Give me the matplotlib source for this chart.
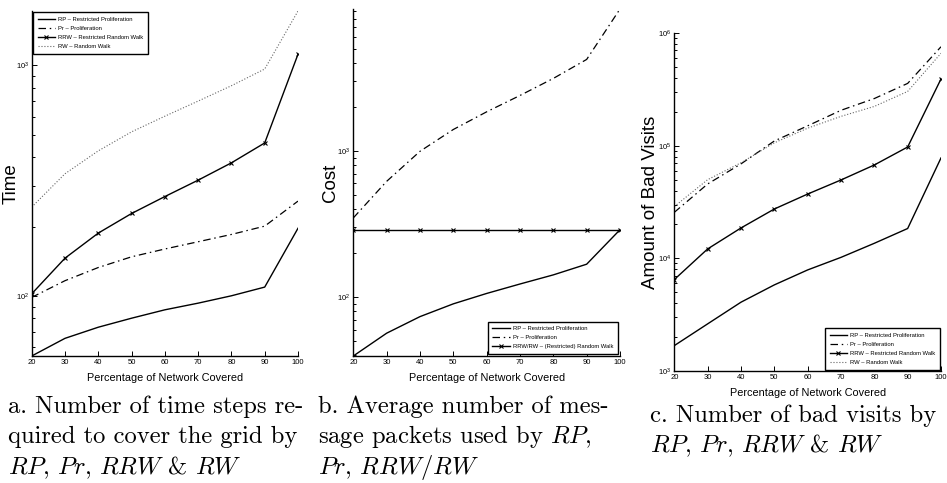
import matplotlib
matplotlib.use("Agg")
import matplotlib.pyplot as plt
from matplotlib import font_manager
from matplotlib.ticker import LogLocator, NullFormatter

# percentage of network covered
coverage = [20, 30, 40, 50, 60, 70, 80, 90, 100]

# a. time steps
rp_time = [55, 65.6, 73.3, 80.2, 87.2, 93.2, 100.3, 109.4, 196.8]
pr_time = [98.7, 116.6, 133, 148, 160, 172, 185, 201, 258]
rrw_time = [102.3, 146, 187.5, 228, 270, 318, 378, 461, 1117]
rw_time = [243, 339, 426, 515, 602, 700, 816, 964, 1720]

# b. message packets (cost)
rp_cost = [39.6, 56.7, 73.6, 90, 106, 123, 142, 168, 289]
pr_cost = [348, 619, 993, 1400, 1849, 2392, 3128, 4218, 9330]
rrw_cost = [289, 289, 289, 289, 289, 289, 289, 289, 289]

# c. bad visits
rp_bad = [1680, 2620, 4080, 5810, 7890, 10200, 13600, 18400, 77800]
pr_bad = [25600, 45700, 68900, 110000, 150000, 206000, 262000, 357000, 755000]
rrw_bad = [6480, 12120, 18600, 27400, 37200, 49600, 67400, 97300, 391000]
rw_bad = [28800, 49900, 70500, 106000, 143000, 182000, 223000, 303000, 661000]

captions_a = ["a. Number of time steps re-", "quired to cover the grid by",
              r"$RP$, $Pr$, $RRW$ & $RW$"]
captions_b = ["b. Average number of mes-", r"sage packets used by $RP$,",
              r"$Pr$, $RRW/RW$"]
captions_c = ["c. Number of bad visits by", r"$RP$, $Pr$, $RRW$ & $RW$"]

names = {f.name for f in font_manager.fontManager.ttflist}
narrow = "Liberation Sans Narrow" if "Liberation Sans Narrow" in names else "Liberation Sans"

plt.rcParams["font.family"] = narrow
plt.rcParams["mathtext.fontset"] = "cm"

W, H = 947, 483
fig = plt.figure(figsize=(W / 100, H / 100), dpi=100)


def add_ax(left, top, right, bottom):
    return fig.add_axes([left / W, 1 - bottom / H, (right - left) / W, (bottom - top) / H])


def style(ax, ylabel, ylab_x):
    ax.set_yscale("log")
    ax.set_xlim(20, 100)
    ax.set_xticks(coverage)
    for s in ["top", "right"]:
        ax.spines[s].set_visible(False)
    for s in ["left", "bottom"]:
        ax.spines[s].set_linewidth(1.0)
    ax.tick_params(which="both", direction="in", labelsize=5.5, width=0.7, pad=2)
    ax.tick_params(which="major", length=3.5)
    ax.tick_params(which="minor", length=2)
    ax.yaxis.set_minor_locator(LogLocator(base=10, subs=range(2, 10)))
    ax.yaxis.set_minor_formatter(NullFormatter())
    ax.set_xlabel("Percentage of Network Covered", fontsize=7.8, labelpad=5)
    ax.set_ylabel(ylabel, family="Liberation Sans", fontsize=13.5)
    ax.yaxis.set_label_coords(ylab_x, 0.5)


dashdot = (0, (6, 3, 1.2, 3))
leg_kw = dict(prop={"family": narrow, "size": 4.2}, fancybox=False, edgecolor="black",
              framealpha=1, handlelength=3.0, borderpad=0.8, labelspacing=0.67,
              handletextpad=0.5)

# panel a
ax = add_ax(31.7, 11, 298, 356)
ax.plot(coverage, rp_time, "-", color="k", lw=1.0, label="RP – Restricted Proliferation")
ax.plot(coverage, pr_time, color="k", ls=dashdot, lw=0.9, label="Pr – Proliferation")
ax.plot(coverage, rrw_time, "-", color="k", lw=1.0, marker="x", ms=3.5, mew=0.8,
        label="RRW – Restricted Random Walk")
ax.plot(coverage, rw_time, ":", color="0.4", lw=0.8, label="RW – Random Walk")
style(ax, "Time", -0.045)
ax.set_ylim(55, 1720)
leg = ax.legend(loc="upper left", borderaxespad=0.2, **leg_kw)
leg.get_frame().set_linewidth(1.0)

# panel b
ax = add_ax(353.3, 9, 620, 356)
ax.plot(coverage, rp_cost, "-", color="k", lw=1.0, label="RP – Restricted Proliferation")
ax.plot(coverage, pr_cost, color="k", ls=dashdot, lw=0.9, label="Pr – Proliferation")
ax.plot(coverage, rrw_cost, "-", color="k", lw=1.0, marker="x", ms=3.5, mew=0.8,
        label="RRW/RW – (Restricted) Random Walk")
style(ax, "Cost", -0.055)
ax.set_ylim(39.6, 9330)
leg = ax.legend(loc="lower right", borderaxespad=0.35, **leg_kw)
leg.get_frame().set_linewidth(1.0)

# panel c
ax = add_ax(674.3, 33, 941, 371)
ax.plot(coverage, rp_bad, "-", color="k", lw=1.0, label="RP – Restricted Proliferation")
ax.plot(coverage, pr_bad, color="k", ls=dashdot, lw=0.9, label="Pr – Proliferation")
ax.plot(coverage, rrw_bad, "-", color="k", lw=1.0, marker="x", ms=3.5, mew=0.8,
        label="RRW – Restricted Random Walk")
ax.plot(coverage, rw_bad, ":", color="0.4", lw=0.8, label="RW – Random Walk")
style(ax, "Amount of Bad Visits", -0.056)
ax.set_ylim(1e3, 1e6)
leg = ax.legend(loc="lower right", borderaxespad=0.2, **leg_kw)
leg.get_frame().set_linewidth(1.0)

# captions (baselines in pixels)
for lines, x0, y0 in [(captions_a, 8, 413), (captions_b, 318, 413), (captions_c, 650, 422)]:
    for i, line in enumerate(lines):
        fig.text(x0 / W, 1 - (y0 + 30.5 * i) / H, line, family="cmr10", fontsize=17.7,
                 ha="left", va="baseline")

fig.savefig("out.png", dpi=100)
